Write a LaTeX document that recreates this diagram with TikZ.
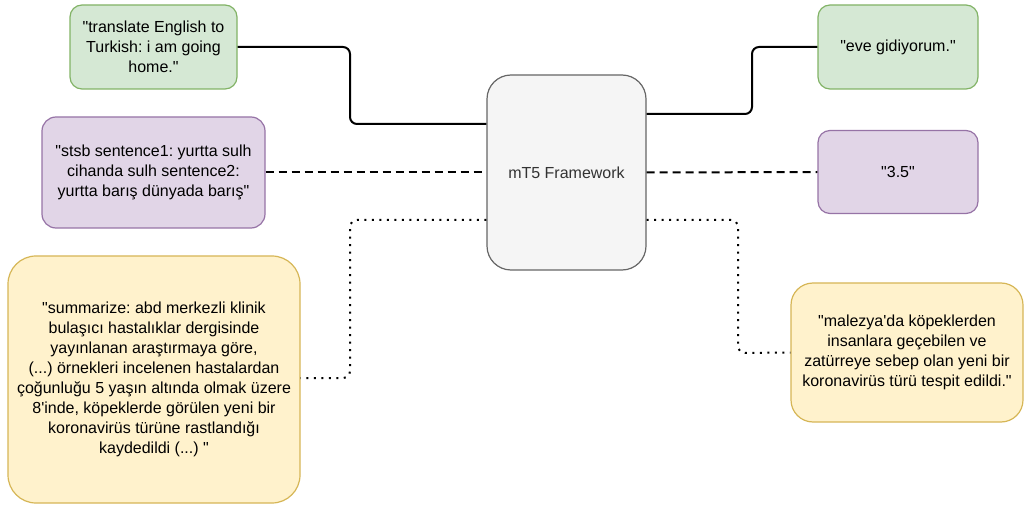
\documentclass[tikz,border=0pt]{standalone}
\usepackage{fontspec}
\setmainfont{Liberation Sans}[Ligatures=TeXOff]
\frenchspacing
\definecolor{greenfill}{HTML}{D5E8D4}
\definecolor{greenline}{HTML}{82B366}
\definecolor{purplefill}{HTML}{E1D5E7}
\definecolor{purpleline}{HTML}{9673A6}
\definecolor{yellowfill}{HTML}{FFF2CC}
\definecolor{yellowline}{HTML}{D6B656}
\definecolor{grayfill}{HTML}{F5F5F5}
\definecolor{grayline}{HTML}{666666}
\begin{document}
\begin{tikzpicture}[x=1pt, y=-1pt,
  box/.style={draw, line width=1.2pt, align=center, inner sep=0pt,
    font=\fontsize{16}{20}\selectfont},
  link/.style={line width=2pt, rounded corners=7pt}]
\useasboundingbox (0,0) rectangle (1026,505);

\node [box, fill=greenfill, draw=greenline, rounded corners=12pt, minimum width=167pt, minimum height=84pt] (inL1) at (153.5,47) {"translate English to\\Turkish: i am going\\home."};
\node [box, fill=purplefill, draw=purpleline, rounded corners=14pt, minimum width=223pt, minimum height=111pt] (inL2) at (153.5,172.5) {"stsb sentence1: yurtta sulh\\cihanda sulh sentence2:\\yurtta barış dünyada barış"};
\node [box, fill=yellowfill, draw=yellowline, rounded corners=28pt, minimum width=292pt, minimum height=247pt] (inL3) at (154,379.5) {"summarize: abd merkezli klinik\\bulaşıcı hastalıklar dergisinde\\yayınlanan araştırmaya göre,\\(...) örnekleri incelenen hastalardan\\çoğunluğu 5 yaşın altında olmak üzere\\8'inde, köpeklerde görülen yeni bir\\koronavirüs türüne rastlandığı\\kaydedildi (...) "};
\node [box, fill=grayfill, draw=grayline, text=black!80, rounded corners=24pt, minimum width=159pt, minimum height=195pt] (mt5) at (566.5,172.5) {mT5 Framework};
\node [box, fill=greenfill, draw=greenline, rounded corners=12pt, minimum width=160pt, minimum height=84pt] (outR1) at (898,47) {"eve gidiyorum."};
\node [box, fill=purplefill, draw=purpleline, rounded corners=12pt, minimum width=160pt, minimum height=83pt] (outR2) at (898,172) {"3.5"};
\node [box, fill=yellowfill, draw=yellowline, rounded corners=22pt, minimum width=232pt, minimum height=139pt] (outR3) at (907,352.5) {"malezya'da köpeklerden\\insanlara geçebilen ve\\zatürreye sebep olan yeni bir\\koronavirüs türü tespit edildi."};

\draw [link] (inL1.east) -- (350,47) -- (350,124) -- ([yshift=48.5pt]mt5.west);
\draw [link] ([yshift=58.5pt]mt5.east) -- (752,114) -- (752,47) -- (outR1.west);
\draw [link, dash pattern=on 8pt off 5pt] (inL2.east) -- (mt5.west);
\draw [link, dash pattern=on 8pt off 5pt] (mt5.east) -- (outR2.west);
\draw [link, dash pattern=on 2pt off 5.5pt] ([yshift=-47.5pt]mt5.west) -- (350,220) -- (350,378) -- (inL3.east |- 0,378);
\draw [link, dash pattern=on 2pt off 5.5pt] ([yshift=-47.5pt]mt5.east) -- (738,220) -- (738,353) -- (outR3.west);
\end{tikzpicture}
\end{document}
